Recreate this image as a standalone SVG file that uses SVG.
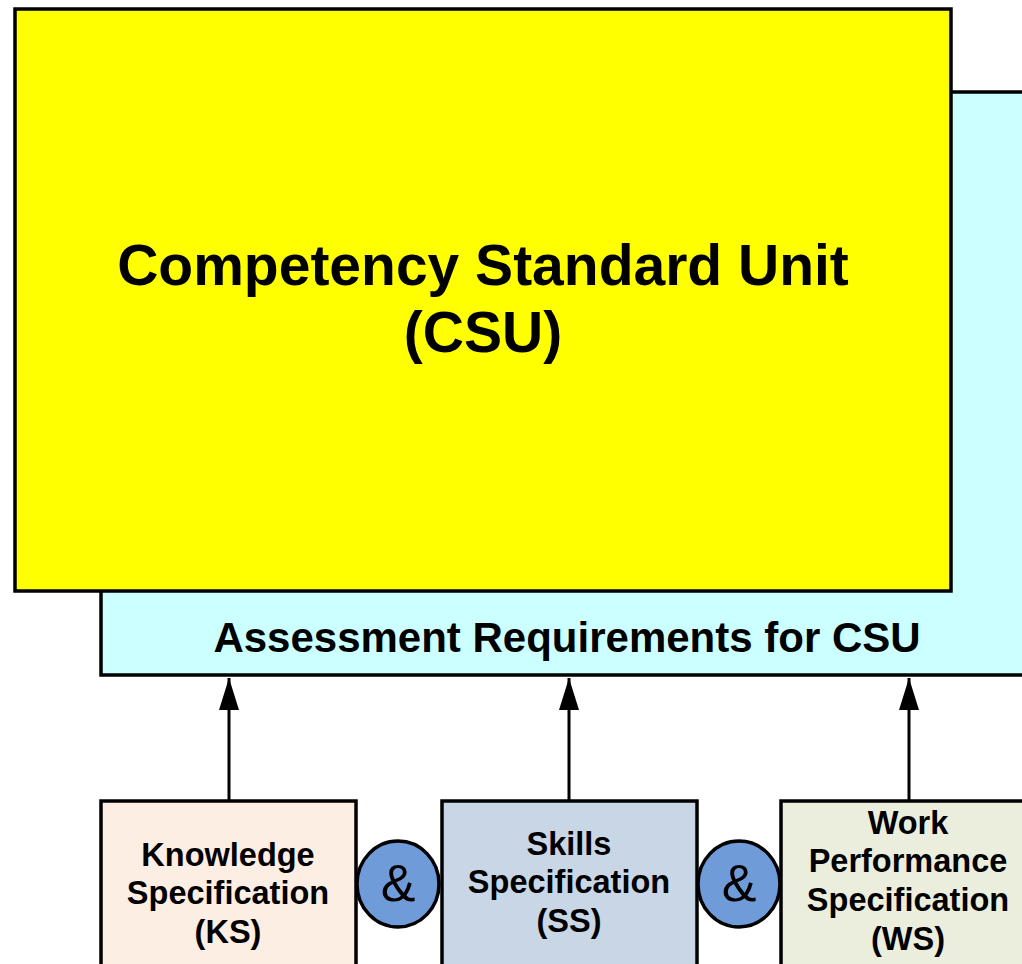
<svg xmlns="http://www.w3.org/2000/svg" width="1022" height="964" viewBox="0 0 1022 964">
<defs>
<style>
.box{stroke:#000;stroke-width:3.5}
.t{font-family:"Liberation Sans",Arial,sans-serif;font-weight:bold;fill:#000;text-anchor:middle}
.amp{font-family:"Liberation Sans",Arial,sans-serif;fill:#000;text-anchor:middle;font-size:52px}
.conn{stroke:#000;stroke-width:3;fill:none}
</style>
<marker id="arr" viewBox="0 0 32 20" refX="32" refY="10" markerWidth="32" markerHeight="20" markerUnits="userSpaceOnUse" orient="auto">
<path d="M0,0 L32,10 L0,20 z" fill="#000"/>
</marker>
</defs>
<rect width="1022" height="964" fill="#fff"/>
<g id="assessment">
<rect class="box" x="101" y="92" width="930" height="583" fill="#ccffff"/>
<text class="t" x="567" y="652" font-size="42">Assessment Requirements for CSU</text>
</g>
<g id="csu">
<rect class="box" x="15" y="9" width="936" height="582" fill="#ffff00"/>
<text class="t" x="483" y="285" font-size="57">Competency Standard Unit</text>
<text class="t" x="483" y="352" font-size="57">(CSU)</text>
</g>
<g id="connectors">
<line class="conn" x1="229" y1="800" x2="229" y2="678" marker-end="url(#arr)"/>
<line class="conn" x1="569" y1="800" x2="569" y2="678" marker-end="url(#arr)"/>
<line class="conn" x1="909" y1="800" x2="909" y2="678" marker-end="url(#arr)"/>
</g>
<g id="ks">
<rect class="box" x="101" y="801" width="255" height="180" fill="#fdeee4"/>
<text class="t" x="228" y="866" font-size="32.5">Knowledge</text>
<text class="t" x="228" y="904" font-size="32.5">Specification</text>
<text class="t" x="228" y="943" font-size="32.5">(KS)</text>
</g>
<g id="ss">
<rect class="box" x="442" y="801" width="255" height="180" fill="#c8d6e6"/>
<text class="t" x="569" y="855" font-size="32.5">Skills</text>
<text class="t" x="569" y="893" font-size="32.5">Specification</text>
<text class="t" x="569" y="932" font-size="32.5">(SS)</text>
</g>
<g id="ws">
<rect class="box" x="781" y="801" width="260" height="180" fill="#ebeedd"/>
<text class="t" x="908" y="834" font-size="32.5">Work</text>
<text class="t" x="908" y="872" font-size="32.5">Performance</text>
<text class="t" x="908" y="911" font-size="32.5">Specification</text>
<text class="t" x="908" y="950" font-size="32.5">(WS)</text>
</g>
<g id="and1">
<ellipse cx="398" cy="884" rx="41" ry="43" fill="#6f9bd9" stroke="#000" stroke-width="3.5"/>
<text class="amp" x="398" y="901">&amp;</text>
</g>
<g id="and2">
<ellipse cx="739" cy="884" rx="41" ry="43" fill="#6f9bd9" stroke="#000" stroke-width="3.5"/>
<text class="amp" x="739" y="901">&amp;</text>
</g>
</svg>
